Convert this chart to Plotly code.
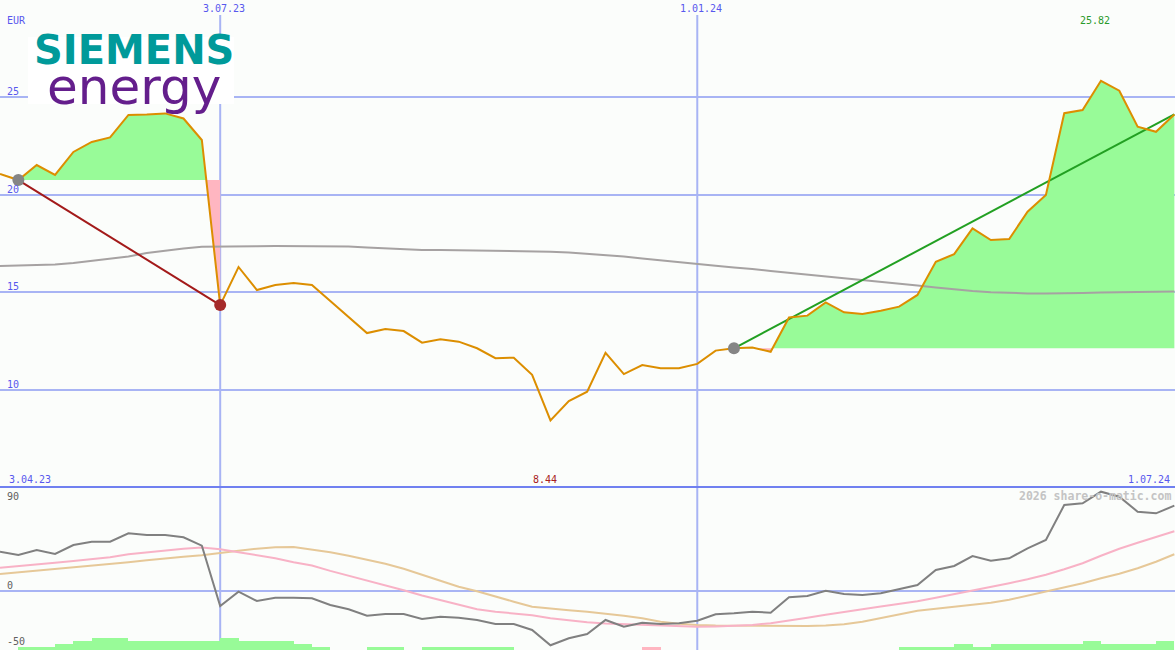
import pandas as pd
import plotly.graph_objects as go

# ---------------- data ----------------
start_date = "2023-04-10"
n_points = 65
dates = pd.date_range(start_date, periods=n_points, freq="7D")

price = [21.05, 20.74, 21.51, 21.00, 22.18, 22.69, 22.92, 24.07, 24.09, 24.15,
         23.89, 22.79, 14.34, 16.29, 15.11, 15.37, 15.47, 15.37, 14.55, 13.73,
         12.91, 13.12, 13.01, 12.42, 12.59, 12.47, 12.13, 11.62, 11.65, 10.77,
         8.44, 9.43, 9.91, 11.90, 10.81, 11.27, 11.11, 11.11, 11.33, 12.01,
         12.13, 12.17, 11.95, 13.71, 13.80, 14.48, 13.97, 13.88, 14.05, 14.26,
         14.86, 16.56, 16.95, 18.27, 17.67, 17.72, 19.12, 19.97, 24.16, 24.32,
         25.82, 25.31, 23.47, 23.21, 24.10]

moving_avg = [16.34, 16.37, 16.39, 16.42, 16.49, 16.60, 16.70, 16.83, 17.01, 17.13,
              17.24, 17.32, 17.34, 17.35, 17.35, 17.36, 17.36, 17.36, 17.36, 17.34,
              17.29, 17.24, 17.19, 17.16, 17.16, 17.15, 17.14, 17.13, 17.12, 17.10,
              17.07, 17.03, 16.97, 16.90, 16.83, 16.72, 16.62, 16.53, 16.44, 16.35,
              16.26, 16.19, 16.08, 15.99, 15.91, 15.80, 15.70, 15.61, 15.52, 15.43,
              15.34, 15.24, 15.14, 15.06, 15.00, 14.96, 14.94, 14.94, 14.94, 14.96,
              14.98, 15.00, 15.01, 15.02, 15.03]

osc_gray = [39, 35.7, 40.7, 36.7, 45.7, 49, 49, 57.4, 55.7, 55.7,
            53.4, 45, -15.3, -1, -10.3, -7, -7, -7.6, -14.3, -18.6,
            -25, -23.3, -23.3, -28.3, -26, -27, -29.3, -33.3, -33.3, -39.3,
            -54.6, -47.6, -43.3, -29.3, -36, -32, -33.3, -32.6, -30, -23.6,
            -22.6, -21, -22, -6.6, -5.3, 0, -3.3, -4.3, -2.6, 1.4,
            5.7, 20.7, 24.7, 34.7, 30, 32.4, 42.4, 50.7, 85.7, 87.4,
            99, 94, 79, 77.4, 85]

osc_pink = [23, 24.5, 26.3, 28, 29.8, 31.5, 33.5, 36.5, 38.5, 40.5,
            42, 43.3, 41.4, 38.5, 35.8, 32.5, 28.5, 25.2, 19.8, 15,
            10.5, 5.5, 0.5, -4.8, -9.5, -14.5, -18.5, -21, -22.5, -24.5,
            -27.6, -29.8, -31.5, -32.8, -33.5, -34, -34.5, -35.2, -36, -35.7,
            -35.3, -34.3, -32.5, -30, -27, -24, -21, -18.5, -15.8, -13.2,
            -10.5, -7, -3.5, 0, 3.5, 7.5, 11.5, 16, 21.5, 27.5,
            35, 42, 48, 54, 59.4]

osc_tan = [16.7, 18.3, 20, 21.5, 23, 24.8, 26.5, 28.5, 30.5, 32.5,
           34, 35.5, 38, 40, 42, 43.5, 43.8, 41.5, 38.5, 35,
           31, 27, 22, 16, 9.5, 4, -0.5, -6, -11, -16,
           -18, -19.5, -21, -22.8, -25, -27.5, -31, -33, -34.3, -34.8,
           -35, -35.2, -35.3, -35.3, -35.2, -34.8, -33.5, -31, -27.5, -23.5,
           -20, -18, -16, -14.5, -12, -9, -5, -1, 3, 7.5,
           12.5, 17, 22.5, 29, 36.4]

bars_green = [0, 1, 1, 2, 3, 4, 4, 3, 3, 3,
              3, 3, 4, 3, 3, 3, 2, 1, 0, 0,
              1, 1, 0, 1, 1, 1, 1, 1, 0, 0,
              0, 0, 0, 0, 0, 0, 0, 0, 0, 0,
              0, 0, 0, 0, 0, 0, 0, 0, 0, 1,
              1, 1, 2, 1, 2, 2, 2, 2, 2, 3,
              2, 2, 2, 3, 0]
bars_pink = [0] * 35 + [1] + [0] * 29

trend_segments = [(1, 12), (40, 64)]   # start / end indices of trend lines
trend_colors = ["#a31a1a", "#22a022"]

tick_dates = ["2023-07-03", "2024-01-01"]
tick_labels = ["3.07.23", "1.01.24"]
range_labels = ["3.04.23", "1.07.24"]
price_grid = [10, 15, 20, 25]
osc_grid = [0]
osc_labels = [90, 0, -50]

# ---------------- helpers ----------------
W, H = 1175, 650
t0 = pd.Timestamp(start_date)


def to_date(t):
    return t0 + pd.Timedelta(days=7 * t)


def px(xp):
    return xp / W


def py(yp):
    return 1 - yp / H


BG = "#fbfdfb"
GRID = "#a8b4f4"
BLUE_TXT = "#5858ee"
MONO = "DejaVu Sans Mono"

fig = go.Figure()

# fills between price and the starting level of each trend segment
for a, b in trend_segments:
    base = price[a]
    pts = []
    for i in range(a, b + 1):
        if i > a:
            v0, v1 = price[i - 1] - base, price[i] - base
            if v0 * v1 < 0:
                pts.append(((i - 1) + v0 / (v0 - v1), base))
        pts.append((i, price[i]))
    for fn, col in ((max, "#98fb98"), (min, "#ffb6c1")):
        xs = [to_date(t) for t, _ in pts] + [to_date(b), to_date(a)]
        ys = [fn(v, base) for _, v in pts] + [base, base]
        fig.add_trace(go.Scatter(x=xs, y=ys, fill="toself", fillcolor=col,
                                 mode="lines", line=dict(width=0),
                                 hoverinfo="skip", showlegend=False))

# moving average
fig.add_trace(go.Scatter(x=dates, y=moving_avg, mode="lines",
                         line=dict(color="#a6a2a2", width=2), showlegend=False))

# trend lines
for (a, b), col in zip(trend_segments, trend_colors):
    fig.add_trace(go.Scatter(x=[dates[a], dates[b]], y=[price[a], price[b]],
                             mode="lines", line=dict(color=col, width=2),
                             showlegend=False))

# price
fig.add_trace(go.Scatter(x=dates, y=price, mode="lines",
                         line=dict(color="#dc8e00", width=2), showlegend=False))

# markers
dot_idx = [trend_segments[0][0], trend_segments[1][0], trend_segments[0][1]]
dot_col = ["#858585", "#858585", "#a52a2a"]
fig.add_trace(go.Scatter(x=[dates[i] for i in dot_idx], y=[price[i] for i in dot_idx],
                         mode="markers", marker=dict(size=12, color=dot_col),
                         showlegend=False))

# lower panel bars
week_ms = 7 * 24 * 3600 * 1000
fig.add_trace(go.Bar(x=dates, y=bars_green, width=week_ms, offset=0,
                     marker=dict(color="#98fb98", line=dict(width=0)),
                     xaxis="x", yaxis="y3", showlegend=False))
fig.add_trace(go.Bar(x=dates, y=bars_pink, width=week_ms, offset=0,
                     marker=dict(color="#ffb6c1", line=dict(width=0)),
                     xaxis="x", yaxis="y3", showlegend=False))

# lower panel lines
for ys, col in ((osc_tan, "#e6c898"), (osc_pink, "#f8b2c6"), (osc_gray, "#808080")):
    fig.add_trace(go.Scatter(x=dates, y=ys, mode="lines", xaxis="x", yaxis="y2",
                             line=dict(color=col, width=2), showlegend=False))

split = 1 - 487 / H

shapes = []
for d in tick_dates:
    shapes.append(dict(type="line", xref="x", yref="paper", x0=d, x1=d,
                       y0=0, y1=py(15), line=dict(color=GRID, width=2), layer="below"))
shapes.append(dict(type="line", xref="paper", yref="paper", x0=0, x1=1,
                   y0=split, y1=split, line=dict(color="#7080f0", width=2), layer="above"))
# logo backdrop
shapes.append(dict(type="rect", xref="paper", yref="paper", x0=px(28), x1=px(234),
                   y0=py(104), y1=py(37), fillcolor="white", line=dict(width=0),
                   layer="above"))

ann = []


def label(text, xp, yp, color, anchor="left", size=10, bold=False, family=MONO):
    ann.append(dict(text=f"<b>{text}</b>" if bold else text, xref="paper", yref="paper",
                    x=px(xp), y=py(yp), xanchor=anchor, yanchor="middle",
                    showarrow=False, font=dict(family=family, size=size, color=color)))


label("EUR", 5, 21, BLUE_TXT)
for d, t in zip(tick_dates, tick_labels):
    xp = (pd.Timestamp(d) - t0).days / 7 * (W - 0.5) / (n_points - 1)
    label(t, xp + 4, 9, BLUE_TXT, anchor="center")
for g in price_grid:
    yp = 194.5 - (g - 20) * 19.54 - 5.5
    label(str(g), 5, yp, BLUE_TXT)
label(f"{max(price):.2f}", 1095, 21, "#2a9a2a", anchor="center")
label(range_labels[0], 7, 479, BLUE_TXT)
label(f"{min(price):.2f}", 545, 479, "#a82020", anchor="center")
label(range_labels[1], 1172, 479, BLUE_TXT, anchor="right")
for v, yp in zip(osc_labels, (496, 585, 641.5)):
    label(str(v), 5, yp, "#606060")
label("2026 share-o-matic.com", 1173, 496, "#c4c4c4", anchor="right", size=11.5, bold=True)

# logo as text
ann.append(dict(text="<b>SIEMENS</b>", xref="paper", yref="paper", x=px(134), y=py(50),
                xanchor="center", yanchor="middle", showarrow=False,
                font=dict(family="DejaVu Sans", size=40, color="#009a9a")))
ann.append(dict(text="energy", xref="paper", yref="paper", x=px(134), y=py(87),
                xanchor="center", yanchor="middle", showarrow=False,
                font=dict(family="DejaVu Sans", size=50, color="#641e8c")))

fig.update_layout(
    width=W, height=H,
    margin=dict(l=0, r=0, t=0, b=0),
    paper_bgcolor=BG, plot_bgcolor=BG,
    showlegend=False, bargap=0, barmode="overlay",
    xaxis=dict(type="date", range=[dates[0], dates[-1] + pd.Timedelta(hours=6)],
               showgrid=False, showticklabels=False, zeroline=False, showline=False,
               ticks=""),
    yaxis=dict(domain=[split, 1], range=[5.031, 29.954], tickvals=price_grid,
               gridcolor=GRID, gridwidth=2, showticklabels=False, zeroline=False,
               ticks=""),
    yaxis2=dict(domain=[0, split], range=[-59.3, 103.7], tickvals=osc_grid,
                gridcolor=GRID, gridwidth=2, showticklabels=False, zeroline=False,
                ticks=""),
    yaxis3=dict(domain=[0, split], overlaying="y2", range=[0, 163 / 3],
                visible=False),
    shapes=shapes,
    annotations=ann,
)

fig.write_html("out.html",
               config={"displayModeBar": False},
               post_script="document.body.style.margin='0';"
                           "document.body.style.overflow='hidden';")
